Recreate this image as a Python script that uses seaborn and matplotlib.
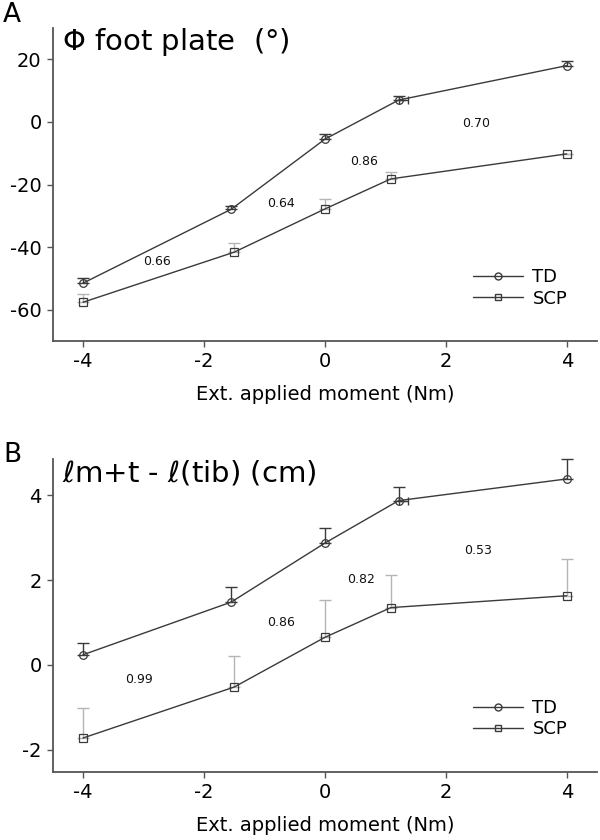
import matplotlib
matplotlib.use("Agg")
import matplotlib.pyplot as plt
import seaborn as sns
import pandas as pd
from matplotlib.lines import Line2D

# ---- data ----
groups = ["TD", "SCP"]
x_td = [-4, -1.55, 0, 1.22, 4]
x_scp = [-4, -1.5, 0, 1.09, 4]

# Panel A: foot plate angle (deg)
td_A = [-51.5, -27.9, -5.5, 7.0, 18.0]
td_A_err = [1.5, 1.2, 1.6, 1.4, 1.5]
scp_A = [-57.6, -41.6, -27.8, -18.2, -10.2]
scp_A_err = [2.6, 3.0, 3.2, 2.2, 0.0]
ratios_A = ["0.66", "0.64", "0.86", "0.70"]
ratio_pos_A_x = [-2.78, -0.73, 0.64, 2.5]
ratio_pos_A_y = [-44.5, -26.0, -12.5, -0.6]

# Panel B: length difference (cm)
td_B = [0.24, 1.48, 2.87, 3.87, 4.38]
td_B_err = [0.28, 0.36, 0.35, 0.32, 0.47]
scp_B = [-1.72, -0.52, 0.65, 1.35, 1.63]
scp_B_err = [0.71, 0.73, 0.87, 0.77, 0.86]
ratios_B = ["0.99", "0.86", "0.82", "0.53"]
ratio_pos_B_x = [-3.07, -0.73, 0.6, 2.53]
ratio_pos_B_y = [-0.35, 0.99, 2.02, 2.7]

xticks = [-4, -2, 0, 2, 4]

sns.set_theme(style="ticks")
plt.rcParams["font.family"] = ["DejaVu Sans"]
plt.rcParams["mathtext.fontset"] = "dejavusans"
plt.rcParams["text.color"] = "black"
plt.rcParams["axes.labelcolor"] = "black"
plt.rcParams["xtick.labelcolor"] = "black"
plt.rcParams["ytick.labelcolor"] = "black"

fig = plt.figure(figsize=(6, 8.4), dpi=100)
axA = fig.add_axes([0.088, 0.594, 0.907, 0.3726])
axB = fig.add_axes([0.088, 0.081, 0.907, 0.3726])

line_col = "#3a3a3a"
spine_col = "#555555"


def draw(ax, td, td_err, scp, scp_err, ratios, rx, ry, ylim, yticks, title):
    df = pd.DataFrame({
        "x": x_td + x_scp,
        "y": td + scp,
        "group": ["TD"] * len(td) + ["SCP"] * len(scp),
    })
    sns.lineplot(data=df, x="x", y="y", hue="group", style="group",
                 markers={"TD": "o", "SCP": "s"}, dashes=False,
                 palette={"TD": line_col, "SCP": line_col},
                 markerfacecolor="none", markeredgecolor=line_col,
                 markersize=5.5, markeredgewidth=0.9, linewidth=1.0,
                 sort=False, legend=False, ax=ax, zorder=3)
    # upward error bars
    e1 = ax.errorbar(x_td, td, yerr=[[0] * len(td), td_err], fmt="none",
                     ecolor=line_col, elinewidth=1.0, capsize=4, capthick=1.0, zorder=2)
    e2 = ax.errorbar(x_scp, scp, yerr=[[0] * len(scp), scp_err], fmt="none",
                     ecolor="#b5b5b5", elinewidth=1.0, capsize=4, capthick=1.0, zorder=2)
    for e in (e1, e2):
        for art in e.lines[1] + e.lines[2]:
            art.set_clip_on(False)
    # small horizontal error bar (to the right) on TD point near x=1.2
    ax.errorbar([x_td[3]], [td[3]], xerr=[[0], [0.15]], fmt="none",
                ecolor=line_col, elinewidth=1.0, capsize=3, capthick=1.0, zorder=2)
    for t, xx, yy in zip(ratios, rx, ry):
        ax.text(xx, yy, t, fontsize=9, ha="center", va="center", color="#111111")
    ax.set_xlim(-4.5, 4.5)
    ax.set_ylim(*ylim)
    ax.set_xticks(xticks)
    ax.set_xticklabels([str(v) for v in xticks])
    ax.set_yticks(yticks)
    ax.set_yticklabels([str(v) for v in yticks])
    ax.tick_params(axis="both", labelsize=14, length=4, width=1, color=spine_col,
                   direction="out", pad=4)
    for s in ["top", "right"]:
        ax.spines[s].set_visible(False)
    for s in ["left", "bottom"]:
        ax.spines[s].set_color(spine_col)
        ax.spines[s].set_linewidth(1.3)
    ax.set_xlabel("Ext. applied moment (Nm)", fontsize=14, labelpad=10)
    ax.set_ylabel("")
    ax.text(0.016, 0.955, title, transform=ax.transAxes, fontsize=21,
            ha="left", va="center")
    handles = [
        Line2D([], [], color=line_col, lw=1.0, marker="o", markersize=5,
               markerfacecolor="none", markeredgecolor=line_col),
        Line2D([], [], color=line_col, lw=1.0, marker="s", markersize=5,
               markerfacecolor="none", markeredgecolor=line_col),
    ]
    ax.legend(handles, groups, loc="lower right", bbox_to_anchor=(0.975, 0.055),
              frameon=False, fontsize=13, handlelength=2.8, handletextpad=0.5,
              labelspacing=0.2, numpoints=1)


draw(axA, td_A, td_A_err, scp_A, scp_A_err, ratios_A,
     ratio_pos_A_x, ratio_pos_A_y, (-70, 30), [-60, -40, -20, 0, 20],
     r"$\Phi$ foot plate  (°)")
draw(axB, td_B, td_B_err, scp_B, scp_B_err, ratios_B,
     ratio_pos_B_x, ratio_pos_B_y, (-2.52, 4.85), [-2, 0, 2, 4],
     r"$\ell$m+t - $\ell$(tib) (cm)")

fig.text(0.005, 0.982, "A", fontsize=19, ha="left", va="center")
fig.text(0.005, 0.458, "B", fontsize=19, ha="left", va="center")

fig.savefig("out.png", dpi=100)
